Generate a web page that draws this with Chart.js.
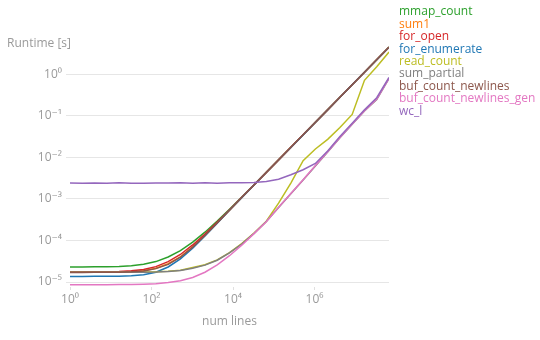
<!DOCTYPE html>
<html>
<head>
<meta charset="utf-8">
<script src="https://cdn.jsdelivr.net/npm/chart.js@4"></script>
<style>
  body { margin: 0; background: #fff; }
</style>
</head>
<body>
<canvas id="runtimeChart" width="540" height="340"></canvas>
<script>
const numLines = [1, 2, 4, 8, 16, 32, 64, 128, 256, 512, 1024, 2048, 4096, 8192, 16384, 32768,
    65536, 131072, 262144, 524288, 1048576, 2097152, 4194304, 8388608, 16777216, 33554432, 67108864];

const mmapCount = [2.31e-5, 2.30e-5, 2.32e-5, 2.33e-5, 2.38e-5, 2.47e-5, 2.68e-5, 3.1e-5, 4.0e-5, 5.7e-5, 9.1e-5, 1.58e-4, 2.93e-4, 5.6e-4,
    1.1e-3, 2.19e-3, 4.35e-3, 8.7e-3, 0.0174, 0.0347, 0.0695, 0.139, 0.278, 0.556, 1.11, 2.22, 4.45];
const sum1 = [1.73e-5, 1.72e-5, 1.73e-5, 1.74e-5, 1.75e-5, 1.78e-5, 1.88e-5, 2.15e-5, 2.75e-5, 4.05e-5, 7.0e-5, 1.34e-4, 2.66e-4, 5.35e-4,
    1.08e-3, 2.16e-3, 4.32e-3, 8.64e-3, 0.0173, 0.0345, 0.069, 0.138, 0.276, 0.553, 1.105, 2.21, 4.42];
const forOpen = [1.76e-5, 1.76e-5, 1.77e-5, 1.78e-5, 1.8e-5, 1.86e-5, 2.0e-5, 2.35e-5, 3.1e-5, 4.6e-5, 7.8e-5, 1.42e-4, 2.76e-4, 5.45e-4,
    1.09e-3, 2.17e-3, 4.33e-3, 8.66e-3, 0.0173, 0.0346, 0.0692, 0.138, 0.277, 0.554, 1.107, 2.21, 4.43];
const forEnumerate = [1.36e-5, 1.36e-5, 1.37e-5, 1.37e-5, 1.38e-5, 1.41e-5, 1.5e-5, 1.72e-5, 2.3e-5, 3.6e-5, 6.5e-5, 1.28e-4, 2.6e-4, 5.3e-4,
    1.07e-3, 2.15e-3, 4.3e-3, 8.62e-3, 0.0172, 0.0345, 0.069, 0.138, 0.276, 0.552, 1.104, 2.2, 4.41];
const readCount = [1.72e-5, 1.71e-5, 1.72e-5, 1.72e-5, 1.73e-5, 1.73e-5, 1.74e-5, 1.76e-5, 1.82e-5, 1.93e-5, 2.25e-5, 2.6e-5, 3.4e-5, 5.1e-5,
    8.4e-5, 1.5e-4, 2.9e-4, 7.9e-4, 2.4e-3, 8.3e-3, 0.0158, 0.027, 0.052, 0.107, 0.71, 1.5, 3.4];
const sumPartial = [1.71e-5, 1.71e-5, 1.71e-5, 1.72e-5, 1.72e-5, 1.72e-5, 1.73e-5, 1.75e-5, 1.8e-5, 1.9e-5, 2.15e-5, 2.55e-5, 3.35e-5, 5.0e-5,
    8.2e-5, 1.48e-4, 2.85e-4, 6.2e-4, 1.33e-3, 2.85e-3, 6.2e-3, 0.0133, 0.0295, 0.062, 0.13, 0.245, 0.78];
const bufCountNewlines = [1.70e-5, 1.70e-5, 1.71e-5, 1.71e-5, 1.73e-5, 1.76e-5, 1.85e-5, 2.1e-5, 2.65e-5, 3.95e-5, 6.9e-5, 1.32e-4, 2.64e-4, 5.33e-4,
    1.08e-3, 2.16e-3, 4.33e-3, 8.66e-3, 0.0174, 0.0347, 0.0694, 0.139, 0.278, 0.556, 1.112, 2.23, 4.46];
const bufCountNewlinesGen = [8.6e-6, 8.6e-6, 8.6e-6, 8.6e-6, 8.7e-6, 8.7e-6, 8.9e-6, 9.1e-6, 9.7e-6, 1.08e-5, 1.29e-5, 1.72e-5, 2.58e-5, 4.3e-5,
    7.7e-5, 1.46e-4, 2.8e-4, 6.3e-4, 1.35e-3, 2.9e-3, 6.3e-3, 0.0135, 0.030, 0.063, 0.132, 0.25, 0.79];
const wcL = [2.4e-3, 2.38e-3, 2.42e-3, 2.37e-3, 2.45e-3, 2.38e-3, 2.36e-3, 2.41e-3, 2.39e-3, 2.43e-3, 2.38e-3, 2.45e-3, 2.37e-3, 2.43e-3,
    2.44e-3, 2.47e-3, 2.62e-3, 2.95e-3, 3.8e-3, 5.0e-3, 7.1e-3, 0.0141, 0.0316, 0.066, 0.138, 0.27, 0.83];

const seriesNames = ["mmap_count", "sum1", "for_open", "for_enumerate", "read_count", "sum_partial",
    "buf_count_newlines", "buf_count_newlines_gen", "wc_l"];
const seriesValues = [mmapCount, sum1, forOpen, forEnumerate, readCount, sumPartial,
    bufCountNewlines, bufCountNewlinesGen, wcL];
const seriesColors = ["#2ca02c", "#ff7f0e", "#d62728", "#1f77b4", "#bcbd22", "#7f7f7f",
    "#8c564b", "#e377c2", "#9467bd"];

const xTicks = [1, 1e2, 1e4, 1e6];
const yTicks = [1e-5, 1e-4, 1e-3, 1e-2, 1e-1, 1];

const FONT = "'Open Sans', 'DejaVu Sans', sans-serif";
const GREY = "#9a9a9a";

const sup = { "0": "\u2070", "1": "\u00b9", "2": "\u00b2", "3": "\u00b3", "4": "\u2074",
    "5": "\u2075", "6": "\u2076", "7": "\u2077", "8": "\u2078", "9": "\u2079", "-": "\u207b" };
function powerLabel(v) {
    const e = String(Math.round(Math.log10(v)));
    return "10" + e.split("").map(c => sup[c]).join("");
}

// y label on top and the coloured line names on the right
const sideText = {
    id: "sideText",
    afterDraw(chart) {
        const ctx = chart.ctx;
        const area = chart.chartArea;
        ctx.save();
        ctx.textBaseline = "middle";
        ctx.textAlign = "left";
        ctx.font = "12px " + FONT;
        ctx.fillStyle = GREY;
        ctx.fillText("Runtime [s]", 7, 44);
        chart.data.datasets.forEach((ds, i) => {
            ctx.fillStyle = ds.borderColor;
            ctx.fillText(ds.label, area.right + 10, 12 + i * 12.4);
        });
        ctx.restore();
    }
};

const datasets = seriesNames.map((name, i) => ({
    label: name,
    data: numLines.map((n, j) => ({ x: n, y: seriesValues[i][j] })),
    borderColor: seriesColors[i],
    backgroundColor: seriesColors[i],
    borderWidth: 1.5,
    pointRadius: 0,
    fill: false,
    order: seriesNames.length - i
}));

new Chart(document.getElementById("runtimeChart"), {
    type: "line",
    data: { datasets: datasets },
    options: {
        responsive: false,
        animation: false,
        layout: { padding: { top: 40, right: 151, bottom: 7, left: 0 } },
        plugins: {
            legend: { display: false },
            tooltip: { enabled: false }
        },
        scales: {
            x: {
                type: "logarithmic",
                min: 1,
                max: 67108864,
                afterBuildTicks: s => { s.ticks = xTicks.map(v => ({ value: v })); },
                afterFit: s => { s.height = 46; },
                ticks: {
                    callback: v => powerLabel(v),
                    color: GREY,
                    font: { family: FONT, size: 12 },
                    padding: 2,
                    maxRotation: 0,
                    autoSkip: false
                },
                grid: { drawOnChartArea: false, tickLength: 3, color: "#e0e0e0" },
                border: { display: false },
                title: {
                    display: true,
                    text: "num lines",
                    color: GREY,
                    font: { family: FONT, size: 12 },
                    padding: { top: 4, bottom: 4 }
                }
            },
            y: {
                type: "logarithmic",
                min: 7.6e-6,
                max: 6.6,
                afterBuildTicks: s => { s.ticks = yTicks.map(v => ({ value: v })); },
                afterFit: s => { s.width = 70; },
                ticks: {
                    callback: v => powerLabel(v),
                    color: GREY,
                    font: { family: FONT, size: 12 },
                    padding: 4,
                    autoSkip: false
                },
                grid: { color: "#e6e6e6", tickLength: 4 },
                border: { display: false }
            }
        }
    },
    plugins: [sideText]
});
</script>
</body>
</html>
